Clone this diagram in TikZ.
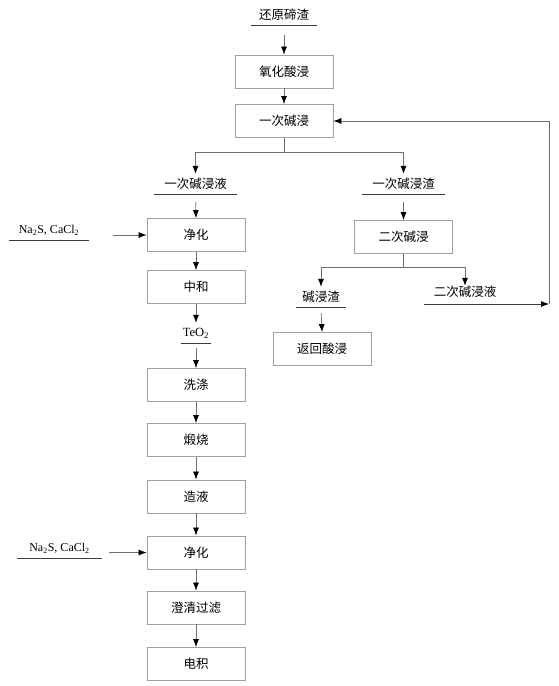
\documentclass[tikz,border=0pt]{standalone}
\usepackage{fontspec}
\setmainfont{Liberation Serif}
\newfontfamily\cjk{Noto Sans CJK SC}
\usetikzlibrary{arrows.meta, calc}
\definecolor{boxclr}{RGB}{160,160,160}
\definecolor{lineclr}{RGB}{110,110,110}
\definecolor{ulclr}{RGB}{60,60,60}

\begin{document}
\begin{tikzpicture}[x=1pt,y=-1pt,
		gx/.style={draw=boxclr, line width=0.8pt, minimum width=98pt, minimum height=33pt, inner sep=0pt, font=\cjk\fontsize{12.5}{14}\selectfont},
		wl/.style={minimum width=#1, minimum height=20pt, inner sep=0pt, font=\cjk\fontsize{12.5}{14}\selectfont},
		wl/.default=83pt,
		ul/.style={draw=ulclr, line width=0.8pt},
		jt/.style={draw=lineclr, line width=0.7pt, -{Latex[length=8pt,width=6pt,color=black]}}]
		\useasboundingbox (0,0) rectangle (559,686);
		
		% main column
		\node[wl=66pt] (hyz) at (284,15) {还原碲渣};
		\node[gx] (yhsj) at (284,71.5) {氧化酸浸};
		\node[gx] (yjj1) at (284,121) {一次碱浸};
		\node[wl] (yjy1) at (195.5,184) {一次碱浸液};
		\node[wl] (yjz1) at (403.5,184) {一次碱浸渣};
		\node[gx] (jh1) at (196,235) {净化};
		\node[gx] (zh) at (196,287) {中和};
		\node[wl=30pt,font=\fontsize{12.5}{14}\selectfont] (teo) at (196,333) {TeO\textsubscript{2}};
		\node[gx] (xd) at (196,385) {洗涤};
		\node[gx] (ds) at (196,440) {煅烧};
		\node[gx] (zy) at (196,496.5) {造液};
		\node[gx] (jh2) at (196,552.5) {净化};
		\node[gx] (cq) at (196,607.5) {澄清过滤};
		\node[gx] (dj) at (196,664) {电积};
		
		% reagents
		\node[wl=80pt,font=\fontsize{12}{14}\selectfont] (na1) at (49,230) {Na\textsubscript{2}S, CaCl\textsubscript{2}};
		\node[wl=85pt,font=\fontsize{12}{14}\selectfont] (na2) at (59.5,548) {Na\textsubscript{2}S, CaCl\textsubscript{2}};
		
		% right branch
		\node[gx] (yjj2) at (403.5,237) {二次碱浸};
		\node[wl=50pt] (jjz) at (321,297) {碱浸渣};
		\node[gx] (fhsj) at (322,349) {返回酸浸};
		\node[inner sep=0pt, minimum height=12pt, font=\cjk\fontsize{12.5}{14}\selectfont] (ejy) at (465,292) {二次碱浸液};
		\coordinate (ejl) at (424,304);
		\coordinate (fh) at (549,304);
		
		% underlines
		\foreach \n in {hyz,yjy1,yjz1,teo,na1,na2,jjz}
		\draw[ul] (\n.south west) -- (\n.south east);
		
		% connectors
		\draw[jt, shorten <=10pt] (hyz.south) -- (yhsj.north);
		\draw[jt] (yhsj.south) -- (yjj1.north);
		\draw[jt] (yjj1.south) -- ++(0,14) -| (yjy1.north);
		\draw[jt] (yjj1.south) -- ++(0,14) -| (yjz1.north);
		\draw[jt, shorten <=8pt] (yjy1.south) -- (jh1.north);
		\draw[jt] (jh1.south) -- (zh.north);
		\draw[jt] (zh.south) -- (teo.north);
		\draw[jt, shorten <=5pt] (teo.south) -- (xd.north);
		\draw[jt] (xd.south) -- (ds.north);
		\draw[jt] (ds.south) -- (zy.north);
		\draw[jt] (zy.south) -- (jh2.north);
		\draw[jt] (jh2.south) -- (cq.north);
		\draw[jt] (cq.south) -- (dj.north);
		\draw[jt, shorten <=24pt] (na1.east |- jh1.west) -- (jh1.west);
		\draw[jt, shorten <=7pt] (na2.east |- jh2.west) -- (jh2.west);
		\draw[jt, shorten <=8pt] (yjz1.south) -- (yjj2.north);
		\draw[jt] (yjj2.south) -- ++(0,13.5) -| (jjz.north);
		\draw[jt] (yjj2.south) -- ++(0,13.5) -| (ejy.north);
		\draw[jt, shorten <=6pt] (jjz.south) -- (fhsj.north);
		\draw[jt, draw=ulclr] (ejl) -- (fh);
		\draw[jt] (fh) |- (yjj1.east);
		
\end{tikzpicture}
\end{document}
